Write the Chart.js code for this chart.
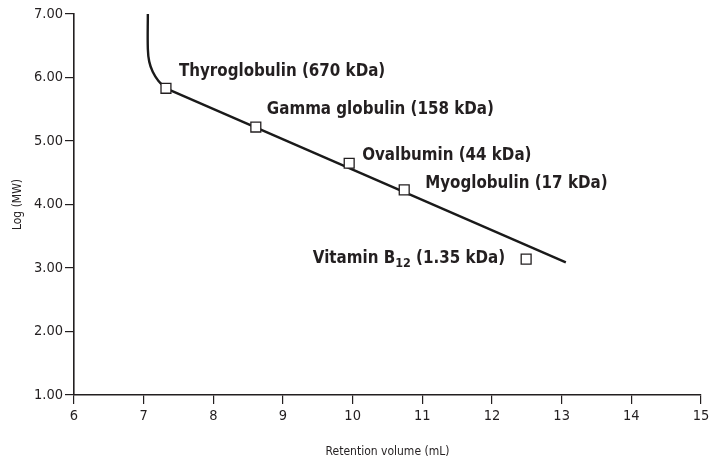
<!DOCTYPE html>
<html>
<head>
<meta charset="utf-8">
<script src="https://cdn.jsdelivr.net/npm/chart.js@4/dist/chart.umd.min.js"></script>
<style>
    html, body { margin: 0; padding: 0; background: #ffffff; }
    #wrap { width: 717px; height: 464px; }
</style>
</head>
<body>
<div id="wrap"><canvas id="calibChart" width="717" height="464"></canvas></div>
<script>
// Protein standards: retention volume (mL) vs log molecular weight
const standards = ["Thyroglobulin (670 kDa)", "Gamma globulin (158 kDa)", "Ovalbumin (44 kDa)", "Myoglobulin (17 kDa)", "Vitamin B_12_ (1.35 kDa)"];
const retentionVol = [7.32, 8.61, 9.95, 10.74, 12.49];
const logMW = [5.83, 5.22, 4.65, 4.23, 3.14];

// Exclusion limit bend at the top of the calibration curve
const curveVol = [7.06, 7.06, 7.08, 7.13, 7.21, 7.32];
const curveLogMW = [7.00, 6.45, 6.25, 6.09, 5.95, 5.83];

// Linear fit over the separation range
const fitVol = [7.32, 13.06];
const fitLogMW = [5.83, 3.09];

const xTicks = [6, 7, 8, 9, 10, 11, 12, 13, 14, 15];
const yTicks = [1, 2, 3, 4, 5, 6, 7];

// label offsets from each marker (px)
const labelOffsets = [[13, -17], [11, -17], [13, -8], [21, -6], [-21, 0]];
const labelAlign = ["left", "left", "left", "left", "right"];

const narrow = "'DejaVu Sans Condensed', 'Liberation Sans', sans-serif";
const ink = "#231f20";

function toPoints(xs, ys) {
    return xs.map((x, i) => ({ x: x, y: ys[i] }));
}

// Draws the standard names next to their markers, with subscript support
const standardLabels = {
    id: "standardLabels",
    afterDatasetsDraw(chart) {
        const meta = chart.getDatasetMeta(2);
        const ctx = chart.ctx;
        ctx.save();
        ctx.fillStyle = ink;
        ctx.textBaseline = "middle";
        meta.data.forEach((pt, i) => {
            const parts = standards[i].split("_");
            const bigFont = "bold 16.8px " + narrow;
            const subFont = "bold 12.5px " + narrow;
            let widths = parts.map((p, k) => {
                ctx.font = k % 2 ? subFont : bigFont;
                return ctx.measureText(p).width;
            });
            let total = widths.reduce((a, b) => a + b, 0);
            let x = pt.x + labelOffsets[i][0];
            const y = pt.y + labelOffsets[i][1];
            if (labelAlign[i] === "right") x -= total;
            ctx.textAlign = "left";
            parts.forEach((p, k) => {
                ctx.font = k % 2 ? subFont : bigFont;
                ctx.fillText(p, x, k % 2 ? y + 5 : y);
                x += widths[k];
            });
        });
        ctx.restore();
    }
};

const ctx = document.getElementById("calibChart").getContext("2d");
new Chart(ctx, {
    type: "scatter",
    data: {
        datasets: [
            {
                data: toPoints(curveVol, curveLogMW),
                showLine: true,
                borderColor: "#1a1a1a",
                borderWidth: 2.4,
                pointRadius: 0,
                tension: 0.4,
                order: 2
            },
            {
                data: toPoints(fitVol, fitLogMW),
                showLine: true,
                borderColor: "#1a1a1a",
                borderWidth: 2.4,
                pointRadius: 0,
                tension: 0,
                order: 2
            },
            {
                data: toPoints(retentionVol, logMW),
                pointStyle: "rect",
                pointRadius: 7,
                pointBackgroundColor: "#ffffff",
                pointBorderColor: "#231f20",
                pointBorderWidth: 1.3,
                order: 1
            }
        ]
    },
    options: {
        responsive: false,
        animation: false,
        devicePixelRatio: 1,
        layout: { padding: { top: 14, right: 16, left: 0, bottom: 0 } },
        plugins: {
            legend: { display: false },
            tooltip: { enabled: false }
        },
        scales: {
            x: {
                type: "linear",
                min: xTicks[0],
                max: xTicks[xTicks.length - 1],
                afterBuildTicks(scale) {
                    scale.ticks = xTicks.map(v => ({ value: v }));
                },
                afterFit(scale) { scale.height = 69; },
                grid: { drawOnChartArea: false, drawTicks: true, tickLength: 9, color: ink, lineWidth: 1.2 },
                border: { display: true, color: ink, width: 1.6 },
                ticks: {
                    color: ink,
                    padding: 4,
                    font: { family: narrow, size: 14.5 }
                },
                title: {
                    display: true,
                    text: "Retention volume (mL)",
                    color: ink,
                    font: { family: narrow, size: 12 },
                    padding: { top: 0, bottom: 5 }
                }
            },
            y: {
                type: "linear",
                min: yTicks[0],
                max: yTicks[yTicks.length - 1],
                afterBuildTicks(scale) {
                    scale.ticks = yTicks.map(v => ({ value: v }));
                },
                afterFit(scale) { scale.width = 74; },
                grid: { drawOnChartArea: false, drawTicks: true, tickLength: 9, color: ink, lineWidth: 1.2 },
                border: { display: true, color: ink, width: 1.6 },
                ticks: {
                    color: ink,
                    padding: 2,
                    font: { family: narrow, size: 14.5 },
                    callback: v => v.toFixed(2)
                },
                title: {
                    display: true,
                    text: "Log (MW)",
                    color: ink,
                    font: { family: narrow, size: 12 },
                    padding: { top: 11, bottom: 0 }
                }
            }
        }
    },
    plugins: [standardLabels]
});
</script>
</body>
</html>
